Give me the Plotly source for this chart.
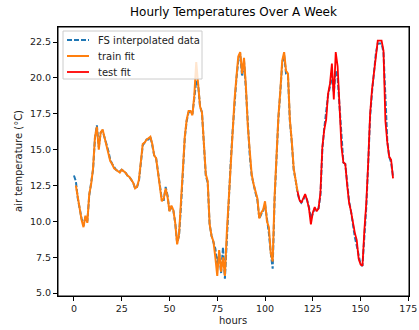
import plotly.graph_objects as go

# ---- data ----
fs_hours = list(range(0, 168))
fs_temp = [
    13.2, 12.8, 11.6, 10.8, 10.2, 9.7, 10.3, 10.0, 11.8, 12.7,
    13.6, 15.8, 16.7, 15.2, 16.2, 16.3, 15.9, 15.4, 14.9, 14.3,
    14.0, 13.8, 13.6, 13.5, 13.5, 13.6, 13.5, 13.4, 13.2, 13.1,
    12.9, 12.7, 12.3, 12.4, 12.8, 14.2, 15.3, 15.5, 15.7, 15.7,
    15.9, 15.3, 14.6, 14.4, 13.6, 12.5, 11.5, 11.5, 12.4, 11.8,
    10.7, 11.0, 10.8, 9.9, 8.5, 9.0, 11.0, 13.5, 15.8, 17.0,
    17.6, 17.7, 17.5, 18.6, 19.8, 19.5, 18.0, 17.6, 15.4, 13.2,
    12.7, 9.8, 9.0, 8.6, 8.1, 7.0, 7.8, 6.4, 8.2, 6.0,
    9.0, 11.5, 14.0, 16.2, 18.3, 19.9, 21.2, 21.7, 20.1, 21.2,
    19.2, 16.5, 14.6, 13.2, 12.5, 12.0, 11.5, 10.2, 10.5, 10.7,
    11.2, 10.2, 9.2, 7.8, 6.7, 11.5, 15.0, 17.2, 19.0, 21.0,
    21.6, 20.3, 20.2, 17.0, 15.5, 13.6, 12.9, 12.0, 11.5, 11.3,
    11.5, 11.8, 11.5, 11.0, 10.2, 10.5, 10.9, 10.8, 10.9, 11.8,
    15.0, 16.5, 17.5, 18.8, 19.4, 20.2, 19.0, 20.5, 20.0, 17.8,
    16.0, 14.1, 14.0, 12.6, 11.4, 10.7, 9.6, 8.9, 8.3, 7.5,
    7.0, 6.9, 9.0, 11.0, 14.0, 17.3, 19.0, 20.5, 21.7, 22.4,
    22.4, 22.4, 21.8, 18.0, 15.6, 14.5, 14.1, 13.1,
]

train_hours = list(range(1, 118))
train_temp = [
    12.5, 11.6, 10.8, 10.1, 9.6, 10.4, 9.9, 11.9, 12.6,
    13.7, 15.9, 16.6, 15.0, 16.2, 16.4, 15.9, 15.4, 14.9, 14.2,
    14.0, 13.7, 13.6, 13.5, 13.4, 13.6, 13.5, 13.4, 13.2, 13.1,
    12.9, 12.7, 12.3, 12.4, 12.9, 14.3, 15.4, 15.5, 15.7, 15.8,
    15.9, 15.4, 14.6, 14.4, 13.5, 12.4, 11.4, 11.6, 12.3, 11.7,
    10.7, 11.1, 10.8, 9.9, 8.4, 9.1, 11.1, 13.6, 15.9, 17.1,
    17.7, 17.7, 17.4, 18.8, 21.1, 19.6, 18.0, 17.6, 15.3, 13.3,
    12.8, 9.8, 9.0, 8.6, 7.5, 6.2, 8.0, 6.5, 7.5, 6.2,
    9.2, 11.6, 14.1, 16.3, 18.4, 20.0, 21.5, 21.8, 20.3, 21.4,
    19.4, 16.6, 14.7, 13.3, 12.6, 12.0, 11.6, 10.2, 10.6, 10.8,
    11.4, 10.0, 9.6, 7.8, 7.2, 11.7, 15.1, 17.3, 19.1, 21.2,
    21.8, 20.5, 20.3, 17.1, 15.6, 13.7, 12.9, 12.1,
]

test_hours = list(range(117, 168))
test_temp = [
    12.1, 11.5, 11.3,
    11.6, 11.9, 11.5, 10.9, 9.8, 10.6, 11.0, 10.7, 10.9, 12.0,
    15.2, 16.4, 17.1, 18.9, 19.6, 21.0, 18.5, 21.8, 20.8, 17.6,
    15.2, 14.1, 14.0, 12.5, 11.3, 10.7, 9.9, 9.2, 8.7, 7.4,
    7.0, 6.9, 9.4, 11.3, 14.1, 17.5, 19.2, 20.3, 21.5, 22.6,
    22.6, 22.6, 21.9, 17.0, 15.5, 14.5, 14.3, 13.0,
]

x_ticks = [0, 25, 50, 75, 100, 125, 150, 175]
y_ticks = [5.0, 7.5, 10.0, 12.5, 15.0, 17.5, 20.0, 22.5]

series_names = ["FS interpolated data", "train fit", "test fit"]
series_colors = ["#1f77b4", "#ff7f0e", "red"]
series_dash = ["5px,2px", "solid", "solid"]
series_width = [2, 2, 1.8]

FONT = "DejaVu Sans"
W, H = 419, 330
L, R, T, B = 58, 10, 27, 34
PW, PH = W - L - R, H - T - B


def px_to_paper(px, py):
    return (px - L) / PW, (T + PH - py) / PH


fig = go.Figure()
for xs, ys, i in [(fs_hours, fs_temp, 0), (train_hours, train_temp, 1), (test_hours, test_temp, 2)]:
    fig.add_trace(go.Scatter(
        x=xs, y=ys, mode="lines", name=series_names[i], showlegend=False,
        line=dict(color=series_colors[i], width=series_width[i], dash=series_dash[i]),
    ))

axis_common = dict(
    showgrid=False, zeroline=False, showline=True, mirror=True,
    linecolor="black", linewidth=1, ticks="outside", ticklen=4,
    tickcolor="black", tickfont=dict(family=FONT, size=9.5, color="#222"),
    automargin=False,
)

shapes = []
annotations = []
# axes frame
shapes.append(dict(type="rect", xref="paper", yref="paper", x0=0, y0=0, x1=1, y1=1,
                   line=dict(color="black", width=1), fillcolor="rgba(0,0,0,0)",
                   layer="above"))
# manual legend box (matplotlib style)
x0, y0 = px_to_paper(63, 31)
x1, y1 = px_to_paper(202, 79)
shapes.append(dict(type="rect", xref="paper", yref="paper", x0=x0, y0=y1, x1=x1, y1=y0,
                   line=dict(color="#cccccc", width=1), fillcolor="rgba(255,255,255,0.8)",
                   layer="above"))
for i, name in enumerate(series_names):
    py = 40 + i * 16
    lx0, ly = px_to_paper(67, py)
    lx1, _ = px_to_paper(89, py)
    tx, _ = px_to_paper(96, py)
    shapes.append(dict(type="line", xref="paper", yref="paper", x0=lx0, x1=lx1, y0=ly, y1=ly,
                       line=dict(color=series_colors[i], width=series_width[i],
                                 dash=series_dash[i]), layer="above"))
    annotations.append(dict(text=name, xref="paper", yref="paper", x=tx, y=ly,
                            xanchor="left", yanchor="middle", showarrow=False,
                            font=dict(family=FONT, size=10, color="#222")))

# axis titles as annotations for exact placement
ax_x, ax_y = px_to_paper(18, 161)
annotations.append(dict(text="air temperature (°C)", xref="paper", yref="paper",
                        x=ax_x, y=ax_y, xanchor="center", yanchor="middle",
                        textangle=-90, showarrow=False,
                        font=dict(family=FONT, size=10, color="#222")))
hx, hy = px_to_paper(233, 320)
annotations.append(dict(text="hours", xref="paper", yref="paper",
                        x=hx, y=hy, xanchor="center", yanchor="middle",
                        showarrow=False, font=dict(family=FONT, size=10, color="#222")))

fig.update_layout(
    width=W, height=H,
    margin=dict(l=L, r=R, t=T, b=B),
    paper_bgcolor="white", plot_bgcolor="white",
    font=dict(family=FONT, color="#222"),
    title=dict(text="Hourly Temperatures Over A Week", x=0.5, xref="paper",
               y=1 - 8 / H, yref="container", yanchor="top",
               xanchor="center", font=dict(family=FONT, size=12, color="black")),
    xaxis=dict(range=[-8.35, 175.35], tickvals=x_ticks,
               ticktext=[str(v) for v in x_ticks], **axis_common),
    yaxis=dict(range=[4.8, 23.55], tickvals=y_ticks,
               ticktext=[f"{v:.1f}" for v in y_ticks], **axis_common),
    shapes=shapes,
    annotations=annotations,
    showlegend=False,
)

fig.write_html("out.html", config={"displayModeBar": False},
               post_script="document.body.style.margin='0';")
